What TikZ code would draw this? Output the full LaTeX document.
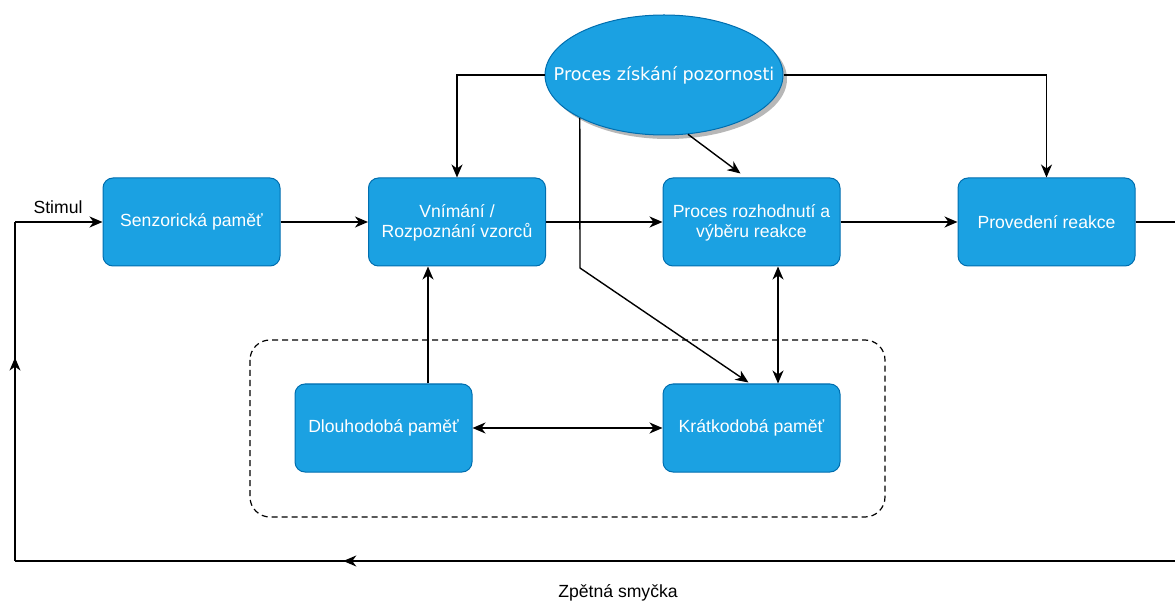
\documentclass[tikz,border=0pt]{standalone}
\usepackage{fontspec}
\setmainfont{Liberation Sans}
\newfontfamily\ellfont{DejaVu Sans}
\usetikzlibrary{shapes.geometric,arrows.meta,calc,shadows,decorations.markings}
\definecolor{boxfill}{HTML}{1BA1E2}
\definecolor{boxline}{HTML}{006EAF}
\begin{document}
\begin{tikzpicture}[x=1pt,y=-1pt,
  every node/.style={font=\fontsize{17.6}{20}\selectfont},
  box/.style={draw=boxline,fill=boxfill,line width=1pt,rounded corners=10pt,
    minimum width=177pt,minimum height=88pt,text=white,align=center,inner sep=2pt},
  twoline/.style={text height=35.2pt,text depth=4pt},
  ell/.style={ellipse,draw=boxline,fill=boxfill,line width=1pt,minimum width=238pt,
    minimum height=120pt,inner sep=0pt,text=white,
    drop shadow={shadow xshift=4pt,shadow yshift=-4pt,fill=black!40,opacity=0.7}},
  tip/.style={-{Stealth[length=13pt,width=11pt,inset=4pt]}},
  dtip/.style={{Stealth[length=13pt,width=11pt,inset=4pt]}-{Stealth[length=13pt,width=11pt,inset=4pt]}},
  conn/.style={line width=1.4pt,draw=black},
  midarrow/.style={postaction={decorate},decoration={markings,
    mark=at position #1 with {\arrow{Stealth[length=13pt,width=11pt,inset=4pt]}}}}
]
\useasboundingbox (0,0) rectangle (1175,601);
% dashed group
\draw[line width=1.2pt,dash pattern=on 6pt off 4pt,rounded corners=20pt] (250,340) rectangle (885,517);
% nodes
\node[box] (sen) at (191.5,222) {Senzorická paměť};
\node[box,twoline] (vnim) at (457,222) {Vnímání /\\Rozpoznání vzorců};
\node[box,twoline] (proc) at (751.5,222) {Proces rozhodnutí a\\výběru reakce};
\node[box] (prov) at (1046.5,222) {Provedení reakce};
\node[box] (dl) at (383.5,428) {Dlouhodobá paměť};
\node[box] (krat) at (751.5,428) {Krátkodobá paměť};
\node[ell] (ell) at (664,75) {\makebox[0pt]{\ellfont\fontsize{17.6}{20}\selectfont Proces získání pozornosti}};
% coordinates
\coordinate (r1) at (1175,222);
\coordinate (r2) at (1175,561);
\coordinate (l1) at (15,561);
\coordinate (l2) at (15,222);
\coordinate (k1) at (580,268);
% connectors
\draw[conn,tip] (sen.east) -- (vnim.west);
\draw[conn,tip] (vnim.east) -- (proc.west);
\draw[conn,tip] (proc.east) -- (prov.west);
\draw[conn] (prov.east) -- (r1);
\draw[conn,tip] (ell.west) -| (vnim.north);
\draw[conn,tip] (ell.east) -| (prov.north);
\draw[conn,tip] (ell.-68) -- ($(proc.north west)+(78,-4)$);
\draw[conn,tip] (ell.-153) -- (k1) -- ($(krat.north west)+(86,-1)$);
\draw[conn,dtip] ($(proc.south)+(26.5,0)$) -- ($(krat.north)+(26.5,0)$);
\draw[conn,tip] ($(dl.north)+(44.5,0)$) coordinate (d1) -- (d1 |- vnim.south);
\draw[conn,dtip] (dl.east) -- (krat.west);
% feedback loop
\draw[conn,midarrow=0.717] (r2) -- (l1);
\draw[conn,midarrow=0.60] (l1) -- (l2);
\draw[conn,tip] (l2) -- (sen.west);
\node[anchor=base] (stim) at (58,214) {Stimul};
\node[anchor=base] (zs) at (618,597) {Zpětná smyčka};
\end{tikzpicture}
\end{document}
